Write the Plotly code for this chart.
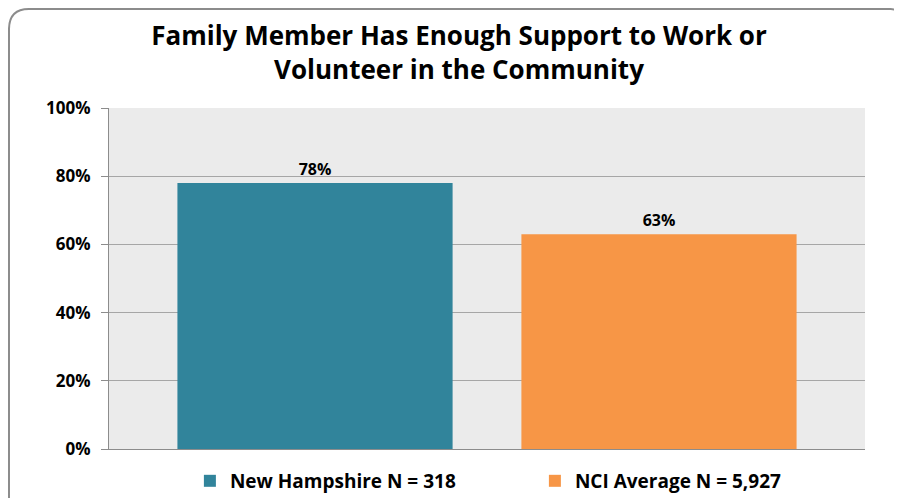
import plotly.graph_objects as go

# chart data
categories = [""]
series_names = ["New Hampshire N = 318", "NCI Average N = 5,927"]
series_values = [[78], [63]]
series_colors = ["#31849b", "#f79646"]
tick_values = [0, 20, 40, 60, 80, 100]
tick_labels = ["0%", "20%", "40%", "60%", "80%", "100%"]

fig = go.Figure()
for name, vals, color in zip(series_names, series_values, series_colors):
    fig.add_trace(go.Bar(
        x=categories,
        y=vals,
        name="<b>%s</b>" % name,
        marker=dict(color=color, line=dict(width=0)),
        text=["<b>%d%%</b>" % v for v in vals],
        textposition="outside",
        textfont=dict(size=16, color="#000000", family="Open Sans"),
        cliponaxis=False,
    ))

# page body adds an 8px offset, so margins are shifted to compensate
fig.update_layout(
    width=902,
    height=498,
    barmode="group",
    bargap=0.09,
    bargroupgap=0.2,
    title=dict(
        text="<b>Family Member Has Enough Support to Work or<br>Volunteer in the Community</b>",
        x=0.5,
        xanchor="center",
        y=0.925,
        yanchor="top",
        font=dict(size=26, color="#000000", family="Open Sans"),
    ),
    font=dict(family="Open Sans", color="#000000"),
    plot_bgcolor="#ebebeb",
    paper_bgcolor="#ffffff",
    margin=dict(l=101, r=45, t=100, b=57, autoexpand=False),
    legend=dict(
        orientation="h",
        x=0.107,
        xanchor="left",
        y=-0.038,
        yanchor="top",
        font=dict(size=19, family="Open Sans", color="#000000"),
        itemwidth=30,
        entrywidth=300,
    ),
    showlegend=True,
)

fig.update_yaxes(
    range=[0, 100],
    tickvals=tick_values,
    ticktext=["<b>%s</b>" % t for t in tick_labels],
    tickfont=dict(size=17, color="#000000"),
    ticklabelstandoff=7,
    automargin=False,
    showgrid=True,
    gridcolor="#a6a6a6",
    gridwidth=1,
    showline=True,
    linecolor="#8c8c8c",
    linewidth=1,
    ticks="outside",
    ticklen=7,
    tickcolor="#8c8c8c",
    zeroline=False,
)
fig.update_xaxes(
    automargin=False,
    showline=True,
    linecolor="#8c8c8c",
    linewidth=1,
    showticklabels=False,
    ticks="",
)

# rounded outer frame
fig.add_shape(
    type="path",
    xref="paper", yref="paper",
    path="M -0.1323,-0.3 L -0.1323,1.23 Q -0.1323,1.29 -0.106,1.29 L 1.034,1.29 Q 1.046,1.29 1.046,1.265 L 1.046,-0.3",
    line=dict(color="#8c8c8c", width=2),
    layer="below",
)

fig.write_html("out.html")
